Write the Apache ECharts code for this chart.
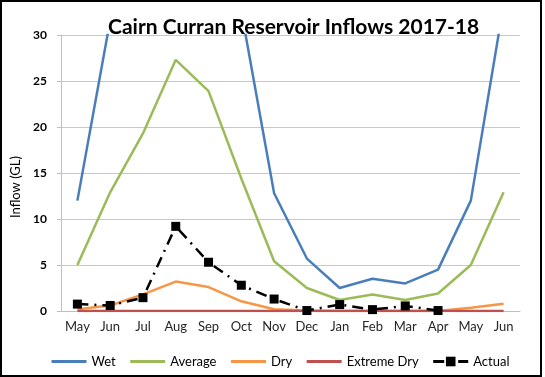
<!DOCTYPE html>
<html>
<head>
    <meta charset="utf-8">
    <script src="https://cdn.jsdelivr.net/npm/echarts@6/dist/echarts.min.js"></script>
    <style>
        body{
            margin:0;
            padding:0;
            background:#fff;
        }
    </style>
</head>
<body>
<div id="main" style="width:545px;height:377px;"></div>
<script type="text/javascript">
var myChart = echarts.init(document.getElementById('main'));

// months from May 2017 to Jun 2018
let months = ['May','Jun','Jul','Aug','Sep','Oct','Nov','Dec','Jan','Feb','Mar','Apr','May','Jun'];
// Jul-Sep wet values are off the top of the chart (clipped at 30)
let wet = [12.0, 31.6, 45, 60, 55, 32.6, 12.8, 5.7, 2.5, 3.5, 3.0, 4.5, 12.0, 33.3];
let average = [5.0, 12.9, 19.3, 27.3, 23.9, 14.4, 5.4, 2.5, 1.2, 1.8, 1.2, 1.9, 5.0, 12.9];
let dry = [0.2, 0.6, 1.8, 3.2, 2.6, 1.05, 0.2, 0.05, 0, 0, 0, 0, 0.35, 0.8];
let extremeDry = [0, 0, 0, 0, 0, 0, 0, 0, 0, 0, 0, 0, 0, 0];
let actual = [0.75, 0.6, 1.45, 9.2, 5.3, 2.8, 1.3, 0.05, 0.7, 0.15, 0.55, 0.05, null, null];
let yTicks = [0, 5, 10, 15, 20, 25, 30];

let font = 'Lato, "Open Sans", sans-serif';

function lineSeries(name, data, color) {
  return {
    name: name,
    type: 'line',
    data: data,
    symbol: 'none',
    clip: true,
    lineStyle: { color: color, width: 2.5 },
    itemStyle: { color: color }
  };
}

// legend entries for plain lines: hide the symbol, keep the line
function plainItem(name) {
  return { name: name, itemStyle: { opacity: 0 }, lineStyle: { width: 3 } };
}

option = {
  animation: false,
  title: {
    text: 'Cairn Curran Reservoir Inflows 2017-18',
    left: 103,
    top: 12,
    textStyle: { fontFamily: font, fontSize: 21, fontWeight: 'bold', color: '#000' }
  },
  grid: {
    left: 61,
    right: 25,
    top: 35,
    bottom: 66
  },
  legend: {
    left: 45,
    top: 350,
    itemWidth: 35,
    itemHeight: 12,
    itemGap: 13,
    textStyle: { fontFamily: font, fontSize: 13, color: '#000' },
    data: [plainItem('Wet'), plainItem('Average'), plainItem('Dry'), plainItem('Extreme Dry'),
      { name: 'Actual', lineStyle: { width: 3 } }]
  },
  xAxis: {
    type: 'category',
    data: months,
    boundaryGap: true,
    axisLine: { lineStyle: { color: '#bfbfbf', width: 1 } },
    axisTick: { show: false },
    axisLabel: { fontFamily: font, fontSize: 13, color: '#262626', margin: 9 }
  },
  yAxis: {
    type: 'value',
    min: yTicks[0],
    max: yTicks[yTicks.length - 1],
    interval: 5,
    axisLine: { show: true, lineStyle: { color: '#bfbfbf' } },
    axisTick: { show: true, length: 4, lineStyle: { color: '#bfbfbf' } },
    splitLine: { lineStyle: { color: '#c8c8c8', width: 1 } },
    axisLabel: { fontFamily: font, fontSize: 12, fontWeight: 'bold', color: '#000', margin: 14 }
  },
  graphic: [
    {
      type: 'rect',
      shape: { x: 1, y: 1, width: 540, height: 375 },
      style: { fill: 'none', stroke: '#000', lineWidth: 2 },
      silent: true
    },
    {
      type: 'text',
      x: 16,
      y: 187,
      rotation: Math.PI / 2,
      style: {
        text: 'Inflow (GL)',
        fontFamily: font,
        fontSize: 13,
        fill: '#000',
        align: 'center',
        verticalAlign: 'middle'
      },
      silent: true
    }
  ],
  series: [
    lineSeries('Wet', wet, '#4a7ebb'),
    lineSeries('Average', average, '#9bbb59'),
    lineSeries('Dry', dry, '#f79646'),
    lineSeries('Extreme Dry', extremeDry, '#c0504d'),
    {
      name: 'Actual',
      type: 'line',
      data: actual,
      symbol: 'rect',
      symbolSize: 9,
      z: 5,
      lineStyle: { color: '#000', width: 2.5, type: [11, 6, 2, 6] },
      itemStyle: { color: '#000' }
    }
  ]
};
myChart.setOption(option);
</script>
</body>
</html>
